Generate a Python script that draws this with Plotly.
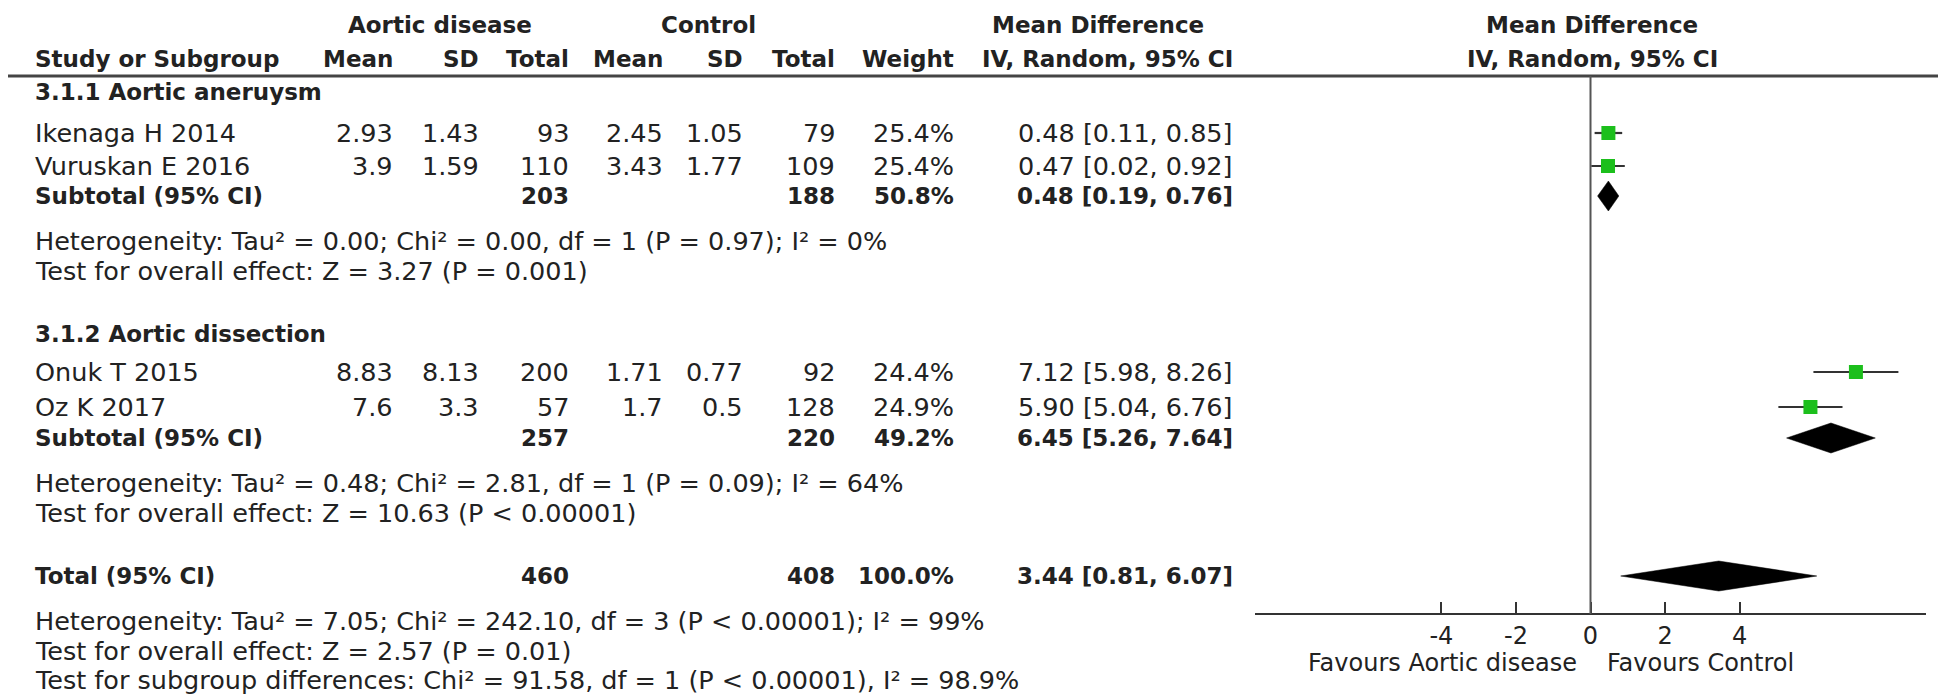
import plotly.graph_objects as go

# ---------------- data ----------------
study_names = ["Ikenaga H 2014", "Vuruskan E 2016", "Onuk T 2015", "Oz K 2017"]
ad_mean = ["2.93", "3.9", "8.83", "7.6"]
ad_sd = ["1.43", "1.59", "8.13", "3.3"]
ad_n = [93, 110, 200, 57]
ctl_mean = ["2.45", "3.43", "1.71", "1.7"]
ctl_sd = ["1.05", "1.77", "0.77", "0.5"]
ctl_n = [79, 109, 92, 128]
weight = [25.4, 25.4, 24.4, 24.9]
md = [0.48, 0.47, 7.12, 5.90]
md_lo = [0.11, 0.02, 5.98, 5.04]
md_hi = [0.85, 0.92, 8.26, 6.76]

subgroup_names = ["3.1.1 Aortic aneruysm", "3.1.2 Aortic dissection"]
sub_ad_n = [203, 257]
sub_ctl_n = [188, 220]
sub_weight = [50.8, 49.2]
sub_md = [0.48, 6.45]
sub_lo = [0.19, 5.26]
sub_hi = [0.76, 7.64]
sub_het = ["Heterogeneity: Tau² = 0.00; Chi² = 0.00, df = 1 (P = 0.97); I² = 0%",
           "Heterogeneity: Tau² = 0.48; Chi² = 2.81, df = 1 (P = 0.09); I² = 64%"]
sub_test = ["Test for overall effect: Z = 3.27 (P = 0.001)",
            "Test for overall effect: Z = 10.63 (P < 0.00001)"]

total_ad_n = 460
total_ctl_n = 408
total_weight = 100.0
total_md = 3.44
total_lo = 0.81
total_hi = 6.07
total_notes = ["Heterogeneity: Tau² = 7.05; Chi² = 242.10, df = 3 (P < 0.00001); I² = 99%",
               "Test for overall effect: Z = 2.57 (P = 0.01)",
               "Test for subgroup differences: Chi² = 91.58, df = 1 (P < 0.00001), I² = 98.9%"]

x_ticks = [-4, -2, 0, 2, 4]
x_tick_labels = ["-4", "-2", "0", "2", "4"]
axis_range = [-9, 9]
favours_left = "Favours Aortic disease"
favours_right = "Favours Control"

# ---------------- layout (pixel rows / columns) ----------------
W, H = 1946, 694
FONT = "DejaVu Sans"
FS = 25.5
FSB = 23
TXT = "#222222"
GREEN = "#1cbf1c"

study_rows = [125, 158, 364, 399]
sub_head_rows = [84, 326]
sub_rows = [188, 430]
het_rows = [233, 475]
test_rows = [263, 505]
total_row = 568
total_note_rows = [613, 643, 672]
header_rows = [17, 51]
header_line_y = 68
axis_y = 606

col_name = 25
col_ad_mean, col_ad_sd, col_ad_n = 387, 473, 563
col_c_mean, col_c_sd, col_c_n = 657, 737, 829
col_w = 948
col_ci = 1227

ann = []


def txt(x, y, s, anchor="left", bold=False, size=None, color=TXT):
    if size is None:
        size = FSB if bold else FS
    if bold:
        s = "<b>" + s + "</b>"
    ann.append(dict(x=x / W, y=y, xref="paper", yref="y", text=s, showarrow=False,
                    xanchor=anchor, yanchor="middle",
                    font=dict(family=FONT, size=size, color=color)))


def ci_str(m, lo, hi):
    return f"{m:.2f} [{lo:.2f}, {hi:.2f}]"


# headers
h1, h2 = header_rows
txt(432, h1, "Aortic disease", "center", True)
txt(700, h1, "Control", "center", True)
txt(1090, h1, "Mean Difference", "center", True)
txt(1584, h1, "Mean Difference", "center", True)
txt(col_name, h2, "Study or Subgroup", "left", True)
txt(col_ad_mean, h2, "Mean", "right", True)
txt(col_ad_sd, h2, "SD", "right", True)
txt(col_ad_n, h2, "Total", "right", True)
txt(col_c_mean, h2, "Mean", "right", True)
txt(col_c_sd, h2, "SD", "right", True)
txt(col_c_n, h2, "Total", "right", True)
txt(col_w, h2, "Weight", "right", True)
txt(col_ci, h2, "IV, Random, 95% CI", "right", True)
txt(1584, h2, "IV, Random, 95% CI", "center", True)

# studies
for i, name in enumerate(study_names):
    y = study_rows[i]
    txt(col_name, y, name)
    txt(col_ad_mean, y, ad_mean[i], "right")
    txt(col_ad_sd, y, ad_sd[i], "right")
    txt(col_ad_n, y, str(ad_n[i]), "right")
    txt(col_c_mean, y, ctl_mean[i], "right")
    txt(col_c_sd, y, ctl_sd[i], "right")
    txt(col_c_n, y, str(ctl_n[i]), "right")
    txt(col_w, y, f"{weight[i]:.1f}%", "right")
    txt(col_ci, y, ci_str(md[i], md_lo[i], md_hi[i]), "right")

# subgroups
for g, gname in enumerate(subgroup_names):
    txt(col_name, sub_head_rows[g], gname, "left", True)
    y = sub_rows[g]
    txt(col_name, y, "Subtotal (95% CI)", "left", True)
    txt(col_ad_n, y, str(sub_ad_n[g]), "right", True)
    txt(col_c_n, y, str(sub_ctl_n[g]), "right", True)
    txt(col_w, y, f"{sub_weight[g]:.1f}%", "right", True)
    txt(col_ci, y, ci_str(sub_md[g], sub_lo[g], sub_hi[g]), "right", True)
    txt(col_name, het_rows[g], sub_het[g])
    txt(col_name, test_rows[g], sub_test[g])

# total
txt(col_name, total_row, "Total (95% CI)", "left", True)
txt(col_ad_n, total_row, str(total_ad_n), "right", True)
txt(col_c_n, total_row, str(total_ctl_n), "right", True)
txt(col_w, total_row, f"{total_weight:.1f}%", "right", True)
txt(col_ci, total_row, ci_str(total_md, total_lo, total_hi), "right", True)
for k, note in enumerate(total_notes):
    txt(col_name, total_note_rows[k], note)

# favours labels
txt(1571, 655, favours_left, "right", size=24)
txt(1597, 655, favours_right, "left", size=24)

fig = go.Figure()

# study squares with CI
fig.add_trace(go.Scatter(
    x=md, y=study_rows, mode="markers",
    marker=dict(symbol="square", size=14, color=GREEN, line=dict(width=0)),
    error_x=dict(type="data", symmetric=False,
                 array=[h - m for h, m in zip(md_hi, md)],
                 arrayminus=[m - l for m, l in zip(md, md_lo)],
                 thickness=2.2, width=0, color="#333333"),
    showlegend=False, hoverinfo="skip"))

# diamonds
HALF = 15
diamonds = [(sub_md[g], sub_lo[g], sub_hi[g], sub_rows[g]) for g in range(2)]
diamonds.append((total_md, total_lo, total_hi, total_row))
for m, lo, hi, y in diamonds:
    fig.add_trace(go.Scatter(
        x=[lo, m, hi, m, lo], y=[y, y - HALF, y, y + HALF, y],
        mode="lines", fill="toself", fillcolor="black",
        line=dict(color="black", width=0.5),
        showlegend=False, hoverinfo="skip"))

shapes = [
    dict(type="line", xref="paper", yref="y", x0=0, x1=1, y0=header_line_y, y1=header_line_y,
         line=dict(color="#444444", width=3)),
    dict(type="line", xref="x", yref="y", x0=0, x1=0, y0=header_line_y, y1=axis_y,
         line=dict(color="#555555", width=2)),
]

x0_px, x1_px = 1247, 1918
fig.update_layout(
    width=W, height=H,
    margin=dict(l=0, r=0, t=0, b=0),
    paper_bgcolor="white", plot_bgcolor="white",
    annotations=ann, shapes=shapes,
    xaxis=dict(domain=[x0_px / W, x1_px / W], range=axis_range,
               anchor="free", position=(H - axis_y) / H,
               showgrid=False, zeroline=False,
               showline=True, linecolor="#333333", linewidth=2,
               tickmode="array", tickvals=x_ticks, ticktext=x_tick_labels,
               ticks="inside", ticklen=11, tickwidth=2, tickcolor="#333333",
               ticklabelstandoff=0,
               tickfont=dict(family=FONT, size=24, color=TXT)),
    yaxis=dict(domain=[0, 1], range=[H, 0], visible=False,
               showgrid=False, zeroline=False),
)

fig.write_html("out.html")
